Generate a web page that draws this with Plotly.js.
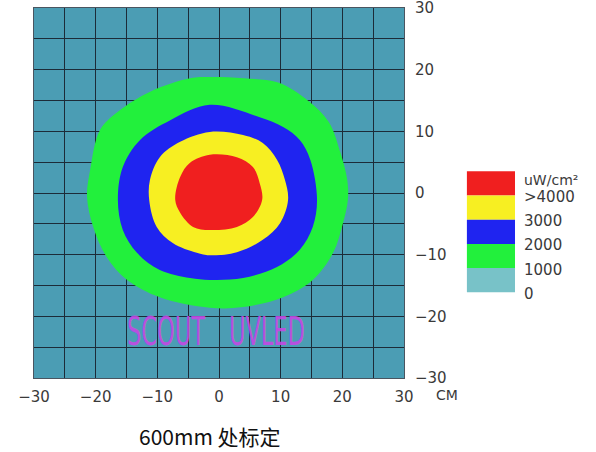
<!DOCTYPE html>
<html>
<head>
<meta charset="utf-8">
<script src="https://cdn.plot.ly/plotly-3.0.1.min.js"></script>
<style>html,body{margin:0;padding:0;background:#fff;}#chart{width:596px;height:452px;}</style>
</head>
<body>
<div id="chart"></div>
<script>
// Irradiance levels (uW/cm²) and their colours
const levels = [0, 1000, 2000, 3000, 4000];
const levelLabels = ["0", "1000", "2000", "3000", ">4000"];
const levelColors = ["#78c2c8", "#22f03c", "#1f24f0", "#f7ef22", "#f01f1f"];
const unitLabel = "uW/cm²";

// Axis ticks (cm): grid every 5, labels every 10
const tickValues = [-30, -25, -20, -15, -10, -5, 0, 5, 10, 15, 20, 25, 30];
const tickTexts = ["−30", "", "−20", "", "−10", "", "0", "", "10", "", "20", "", "30"];

// Contour boundaries (cm)
const c1000X = [-1.5, 4.0, 9.6, 14.5, 17.8, 19.6, 20.8, 20.9, 20.1, 18.5, 15.2, 10.4, 3.9, -1.5, -9.6, -14.9, -18.2, -20.4, -21.4, -20.9, -19.3, -16.5, -11.0, -4.7];
const c1000Y = [18.8, 18.6, 17.9, 14.9, 11.5, 6.8, 2.1, -1.1, -4.9, -9.7, -14.1, -16.9, -18.5, -18.6, -16.9, -14.1, -10.4, -5.5, -0.6, 3.7, 10.2, 13.1, 16.5, 18.6];

const c2000X = [-1.5, 6.6, 10.4, 13.1, 14.8, 15.9, 15.2, 13.1, 9.4, 3.9, -1.5, -4.7, -9.6, -13.3, -15.6, -16.4, -15.6, -12.8, -7.9];
const c2000Y = [14.3, 12.3, 10.7, 8.6, 5.4, -1.1, -5.5, -9.2, -12.0, -13.8, -14.1, -13.8, -12.5, -9.7, -6.0, -1.1, 4.2, 8.6, 11.8];

const c3000X = [-1.5, 3.9, 7.1, 9.4, 10.7, 11.2, 9.9, 7.1, 2.9, -1.5, -3.6, -7.5, -10.1, -11.3, -11.2, -9.6, -6.3];
const c3000Y = [9.9, 9.4, 8.1, 5.4, 2.1, -1.1, -4.9, -7.6, -9.6, -10.1, -9.7, -8.1, -5.5, -1.3, 2.1, 5.8, 8.3];

const c4000X = [-1.5, 2.9, 5.5, 6.6, 7.0, 5.5, 2.9, -1.5, -4.2, -6.3, -7.1, -6.3, -4.7];
const c4000Y = [6.2, 5.8, 4.2, 1.6, -1.1, -3.9, -5.5, -6.0, -5.5, -3.2, -1.1, 2.6, 4.9];

const contours = [[c1000X, c1000Y], [c2000X, c2000Y], [c3000X, c3000Y], [c4000X, c4000Y]];

const bgColor = "#4b9db4";
const gridColor = "#1c2b38";
const textColor = "#3a3a3a";
const sans = "DejaVu Sans, sans-serif";

const traces = contours.map(function (c, i) {
  const xs = c[0].concat([c[0][0]]);
  const ys = c[1].concat([c[1][0]]);
  return {
    type: "scatter", mode: "lines", x: xs, y: ys,
    fill: "toself", fillcolor: levelColors[i + 1],
    line: {width: 0, shape: "spline", smoothing: 1, color: levelColors[i + 1]},
    hoverinfo: "skip", showlegend: false
  };
});

// Legend key (paper coordinates), built from the levels array
const keyX0 = 1.170, keyX1 = 1.300, keyTop = 0.559, keyH = 0.0655, labelX = 1.318;
const shapes = [];
const annotations = [];
const n = levels.length;
for (let i = 0; i < n; i++) {
  const idx = n - 1 - i; // top box is the highest level
  shapes.push({type: "rect", xref: "paper", yref: "paper",
    x0: keyX0, x1: keyX1, y0: keyTop - (i + 1) * keyH, y1: keyTop - i * keyH,
    fillcolor: levelColors[idx], line: {width: 0}});
  annotations.push({xref: "paper", yref: "paper", x: labelX, y: keyTop - (i + 1) * keyH - 0.004,
    text: levelLabels[idx], showarrow: false, xanchor: "left", yanchor: "middle",
    font: {family: sans, size: 15, color: textColor}});
}
annotations.push({xref: "paper", yref: "paper", x: labelX, y: keyTop - 0.024, text: unitLabel,
  showarrow: false, xanchor: "left", yanchor: "middle",
  font: {family: sans, size: 14, color: textColor}});

annotations.push({xref: "paper", yref: "paper", x: 1.116, y: -0.046, text: "CM", showarrow: false,
  xanchor: "center", yanchor: "middle", font: {family: sans, size: 14, color: textColor}});

annotations.push({xref: "paper", yref: "paper", x: 0.476, y: -0.158, text: "600mm 处标定", showarrow: false,
  xanchor: "center", yanchor: "middle", borderpad: 0,
  font: {family: "Noto Sans CJK SC, sans-serif", size: 21, color: "#111"}});

// watermark
const wmFont = {family: "Liberation Sans Narrow, DejaVu Sans Condensed, sans-serif", size: 25, color: "rgba(200,70,230,0.9)"};
annotations.push({xref: "x", yref: "y", x: -8.6, y: -22.4, text: "SCOUT", showarrow: false, font: wmFont});
annotations.push({xref: "x", yref: "y", x: 7.8, y: -22.4, text: "UVLED", showarrow: false, font: wmFont});

const axisCommon = {
  range: [-30, 30], tickmode: "array", tickvals: tickValues, ticktext: tickTexts,
  showgrid: true, gridcolor: gridColor, gridwidth: 1,
  zeroline: false, showline: true, mirror: true, linecolor: "#4a5560", linewidth: 1,
  ticks: "outside", ticklen: 7, tickcolor: "rgba(0,0,0,0)",
  ticklabeloverflow: "allow",
  tickfont: {family: sans, size: 15, color: textColor}, fixedrange: true
};

const layout = {
  width: 596, height: 452,
  margin: {l: 34, r: 192, t: 8, b: 74},
  paper_bgcolor: "#ffffff", plot_bgcolor: bgColor,
  xaxis: Object.assign({}, axisCommon, {ticklen: 5}),
  yaxis: Object.assign({}, axisCommon, {side: "right"}),
  shapes: shapes, annotations: annotations, showlegend: false
};

Plotly.newPlot("chart", traces, layout, {staticPlot: true}).then(function () {
  document.querySelectorAll(".annotation-text").forEach(function (el) {
    const t = el.textContent;
    if (t === "SCOUT" || t === "UVLED") {
      const b = el.getBBox();
      const cx = b.x + b.width / 2, cy = b.y + b.height / 2;
      const ex = el.getAttribute("transform") || "";
      el.setAttribute("transform", ex + " translate(" + cx + "," + cy + ") scale(1,1.55) translate(" + (-cx) + "," + (-cy) + ")");
    }
  });
});
</script>
</body>
</html>
